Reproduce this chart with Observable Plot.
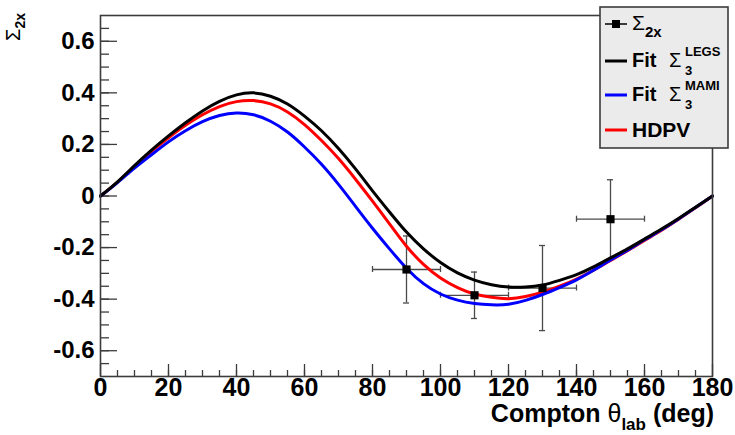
<!DOCTYPE html>
<html><head><meta charset="utf-8">
<script src="https://cdn.jsdelivr.net/npm/d3@7"></script>
<script src="https://cdn.jsdelivr.net/npm/@observablehq/plot@0.6"></script>
<style>
body{margin:0;background:#fff;}
#chart{position:relative;width:735px;height:435px;}
</style>
</head><body><div id="chart"></div>
<script>
// ---- data ----
const angles    = [0,5,10,15,20,25,30,35,40,45,50,55,60,65,70,75,80,85,90,95,100,105,110,115,120,125,130,135,140,145,150,155,160,165,170,175,180];
const sigmaLEGS = [0,0.055,0.118,0.178,0.233,0.284,0.33,0.367,0.392,0.40,0.387,0.357,0.31,0.253,0.184,0.105,0.02,-0.062,-0.14,-0.205,-0.258,-0.298,-0.326,-0.344,-0.353,-0.353,-0.345,-0.327,-0.305,-0.275,-0.24,-0.205,-0.167,-0.128,-0.087,-0.044,0];
const sigmaMAMI = [0,0.052,0.108,0.16,0.21,0.253,0.288,0.312,0.322,0.315,0.29,0.248,0.19,0.123,0.045,-0.04,-0.125,-0.205,-0.28,-0.34,-0.38,-0.404,-0.417,-0.422,-0.42,-0.405,-0.382,-0.355,-0.325,-0.288,-0.248,-0.21,-0.17,-0.131,-0.089,-0.045,0];
const sigmaHDPV = [0,0.054,0.115,0.173,0.226,0.274,0.315,0.347,0.366,0.37,0.357,0.326,0.277,0.215,0.145,0.065,-0.02,-0.108,-0.195,-0.265,-0.318,-0.355,-0.38,-0.393,-0.398,-0.39,-0.373,-0.35,-0.322,-0.288,-0.25,-0.212,-0.172,-0.133,-0.09,-0.046,0];

const dataTheta    = [90,110,130,150];
const dataThetaErr = [10,10,10,10];
const dataSigma    = [-0.285,-0.385,-0.357,-0.09];
const dataSigmaErr = [0.13,0.09,0.165,0.153];

const xTickValues = [0,20,40,60,80,100,120,140,160,180];
const xTickLabels = ["0","20","40","60","80","100","120","140","160","180"];
const yTickValues = [-0.6,-0.4,-0.2,0,0.2,0.4,0.6];
const yTickLabels = ["-0.6","-0.4","-0.2","0","0.2","0.4","0.6"];
const xMinorTicks = d3.range(1,36).map(i => i*5);
const yMinorTicks = d3.range(-13,14).map(i => +(i*0.05).toFixed(2));

// ---- tables ----
const curves = angles.map((a,i) => ({theta:a, LEGS:sigmaLEGS[i], MAMI:sigmaMAMI[i], HDPV:sigmaHDPV[i]}));
const points = dataTheta.map((t,i) => ({t, te:dataThetaErr[i], s:dataSigma[i], se:dataSigmaErr[i]}));

const W = 735, H = 435, mL = 100, mR = 23, mT = 15, mB = 59;
const frameW = W - mL - mR, frameH = H - mT - mB;
const axisColor = "#3c3c3c";
const boldFont = "'Liberation Sans', Arial, Helvetica, sans-serif";
const errColor = "#4a4a4a";

const chart = Plot.plot({
  width: W, height: H,
  marginLeft: mL, marginRight: mR, marginTop: mT, marginBottom: mB,
  x: {domain: [0,180], axis: null},
  y: {domain: [-0.7,0.7], axis: null},
  style: {background: "white"},
  marks: [
    // ticks (inside the frame)
    Plot.tickX(xMinorTicks, {x: d => d, stroke: axisColor, strokeWidth: 1.3, insetTop: frameH - 6}),
    Plot.tickX(xTickValues, {x: d => d, stroke: axisColor, strokeWidth: 1.3, insetTop: frameH - 12}),
    Plot.tickY(yMinorTicks, {y: d => d, stroke: axisColor, strokeWidth: 1.3, insetRight: frameW - 9}),
    Plot.tickY(yTickValues, {y: d => d, stroke: axisColor, strokeWidth: 1.3, insetRight: frameW - 17}),
    // tick labels
    Plot.text(xTickValues, {x: d => d, text: (d,i) => xTickLabels[i], frameAnchor: "bottom", lineAnchor: "top", dy: 2,
      fontSize: 25, fontWeight: "bold", fontFamily: boldFont, fill: "black"}),
    Plot.text(yTickValues, {y: d => d, text: (d,i) => yTickLabels[i], frameAnchor: "left", textAnchor: "end", dx: -6,
      fontSize: 24, fontWeight: "bold", fontFamily: boldFont, fill: "black"}),
    // error bars
    Plot.ruleX(points, {x: "t", y1: d => d.s - d.se, y2: d => d.s + d.se, stroke: errColor, strokeWidth: 1.3}),
    Plot.ruleY(points, {y: "s", x1: d => d.t - d.te, x2: d => d.t + d.te, stroke: errColor, strokeWidth: 1.3}),
    Plot.ruleY(points, {y: d => d.s + d.se, x1: "t", x2: "t", insetLeft: -3, insetRight: -3, stroke: errColor, strokeWidth: 1.3}),
    Plot.ruleY(points, {y: d => d.s - d.se, x1: "t", x2: "t", insetLeft: -3, insetRight: -3, stroke: errColor, strokeWidth: 1.3}),
    Plot.ruleX(points, {x: d => d.t - d.te, y1: "s", y2: "s", insetTop: -3, insetBottom: -3, stroke: errColor, strokeWidth: 1.3}),
    Plot.ruleX(points, {x: d => d.t + d.te, y1: "s", y2: "s", insetTop: -3, insetBottom: -3, stroke: errColor, strokeWidth: 1.3}),
    // curves
    Plot.line(curves, {x: "theta", y: "HDPV", stroke: "#ff0000", strokeWidth: 3, curve: "natural"}),
    Plot.line(curves, {x: "theta", y: "MAMI", stroke: "#0000ff", strokeWidth: 3, curve: "natural"}),
    Plot.line(curves, {x: "theta", y: "LEGS", stroke: "#000000", strokeWidth: 3, curve: "natural"}),
    // data markers
    Plot.dot(points, {x: "t", y: "s", symbol: "square", r: 4.6, fill: "black", stroke: "none"}),
    Plot.frame({stroke: axisColor, strokeWidth: 1.6})
  ]
});
document.getElementById("chart").appendChild(chart);

const svg = d3.select(chart);
function txt(parent, x, y) {
  return parent.append("text").attr("x", x).attr("y", y).attr("text-anchor", "start")
    .attr("font-family", boldFont).attr("fill", "black");
}

// x-axis title
const xt = svg.append("text")
  .attr("x", 714).attr("y", 422).attr("text-anchor", "end")
  .attr("font-family", boldFont).attr("font-weight", "bold").attr("font-size", 25).attr("fill", "black");
xt.append("tspan").text("Compton ");
xt.append("tspan").attr("font-weight", "normal").text("θ");
xt.append("tspan").attr("font-size", 17).attr("dy", 8).text("lab");
xt.append("tspan").attr("dy", -8).text(" (deg)");

// y-axis title (rotated)
const yt = svg.append("text")
  .attr("transform", "translate(20,13) rotate(-90)").attr("text-anchor", "end")
  .attr("font-family", boldFont).attr("fill", "black");
yt.append("tspan").attr("font-size", 20).text("Σ");
yt.append("tspan").attr("font-size", 14).attr("font-weight", "bold").attr("dy", 5).text("2x");

// legend
const lg = svg.append("g");
lg.append("rect").attr("x", 600).attr("y", 7).attr("width", 128).attr("height", 141)
  .attr("fill", "#ebebeb").attr("stroke", "#3c3c3c").attr("stroke-width", 1.6);

const entries = [
  {y: 24, color: "black", marker: true},
  {y: 61, color: "black"},
  {y: 95, color: "#0000ff"},
  {y: 130, color: "#ff0000"}
];
entries.forEach(e => {
  lg.append("line").attr("x1", 605).attr("x2", 627).attr("y1", e.y).attr("y2", e.y)
    .attr("stroke", e.color).attr("stroke-width", e.marker ? 1.5 : 3);
  if (e.marker) lg.append("rect").attr("x", 612).attr("y", e.y - 4).attr("width", 8).attr("height", 8).attr("fill", "black");
});

// entry 1
const t1 = txt(lg, 632, 30);
t1.append("tspan").attr("font-size", 21).text("Σ");
t1.append("tspan").attr("font-size", 15).attr("font-weight", "bold").attr("dy", 7).text("2x");

function fitEntry(yBase, sup) {
  const t = txt(lg, 632, yBase);
  t.append("tspan").attr("font-size", 20).attr("font-weight", "bold").text("Fit");
  txt(lg, 669, yBase).attr("font-size", 20).text("Σ");
  txt(lg, 685, yBase - 11).attr("font-weight", "bold").attr("font-size", 13).text(sup);
  txt(lg, 685, yBase + 8).attr("font-weight", "bold").attr("font-size", 13).text("3");
}
fitEntry(67, "LEGS");
fitEntry(101, "MAMI");

txt(lg, 632, 137).attr("font-weight", "bold").attr("font-size", 21).text("HDPV");
</script>
</body></html>
